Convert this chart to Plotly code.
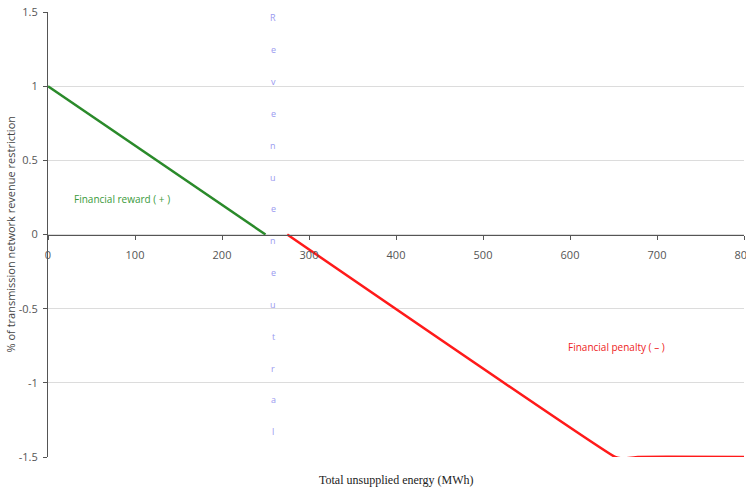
import plotly.graph_objects as go

# Data
reward_x = [0, 250]
reward_y = [1.0, 0.0]
penalty_x = [275, 652, 662, 678, 800]
penalty_y = [0.0, -1.5, -1.51, -1.5, -1.5]
x_ticks = [0, 100, 200, 300, 400, 500, 600, 700, 800]
y_ticks = [-1.5, -1, -0.5, 0, 0.5, 1, 1.5]
neutral_x = 259
neutral_letters = list("Revenueneutral")

fig = go.Figure()
fig.add_trace(go.Scatter(x=reward_x, y=reward_y, mode="lines",
                         line=dict(color="#2a8a2a", width=2.5), showlegend=False))
fig.add_trace(go.Scatter(x=penalty_x, y=penalty_y, mode="lines",
                         line=dict(color="#ff1a1a", width=2.5, shape="spline", smoothing=0.3),
                         showlegend=False))

annotations = []
n = len(neutral_letters)
top, bottom = 1.46, -1.33
for i, ch in enumerate(neutral_letters):
    yy = top + (bottom - top) * i / (n - 1)
    annotations.append(dict(x=neutral_x, y=yy, xref="x", yref="y", text=ch, showarrow=False,
                            font=dict(family="Open Sans", size=9, color="#9a9af0")))

annotations += [
    dict(x=85, y=0.24, xref="x", yref="y", text="Financial reward ( + )", showarrow=False,
         font=dict(family="Liberation Sans Narrow, Open Sans", size=10, color="#3a9a3a")),
    dict(x=654, y=-0.76, xref="x", yref="y", text="Financial penalty ( – )", showarrow=False,
         font=dict(family="Liberation Sans Narrow, Open Sans", size=10, color="#ee2222")),
    dict(x=0.5, y=0, xref="paper", yref="paper", yshift=-14, yanchor="top",
         text="Total unsupplied energy (MWh)", showarrow=False,
         font=dict(family="Liberation Serif", size=12, color="#222")),
    dict(x=0, y=0.5, xref="paper", yref="paper", xshift=-38, xanchor="center",
         yanchor="middle", textangle=-90,
         text="% of transmission network revenue restriction", showarrow=False,
         font=dict(family="Open Sans", size=11, color="#444")),
]

fig.update_layout(
    width=746, height=487,
    margin=dict(l=48, r=2, t=12, b=30, autoexpand=False),
    paper_bgcolor="white", plot_bgcolor="white",
    annotations=annotations,
    xaxis=dict(range=[0, 800], tickvals=x_ticks, ticktext=[str(v) for v in x_ticks],
               anchor="free", position=0.5, showline=True, linecolor="#555", linewidth=1,
               ticks="outside", ticklen=4, tickcolor="#555", showgrid=False, zeroline=False,
               ticklabeloverflow="allow", ticklabelstandoff=6, automargin=False,
               tickfont=dict(family="Open Sans", size=11, color="#555")),
    yaxis=dict(range=[-1.5, 1.5], tickvals=y_ticks, ticktext=["-1.5", "-1", "-0.5", "0", "0.5", "1", "1.5"],
               showline=True, linecolor="#555", linewidth=1, ticks="outside", ticklen=4,
               tickcolor="#555", showgrid=True, gridcolor="#dcdcdc", gridwidth=1, zeroline=False,
               ticklabelstandoff=3, automargin=False,
               tickfont=dict(family="Open Sans", size=11, color="#555")),
)

fig.write_html("out.html")
